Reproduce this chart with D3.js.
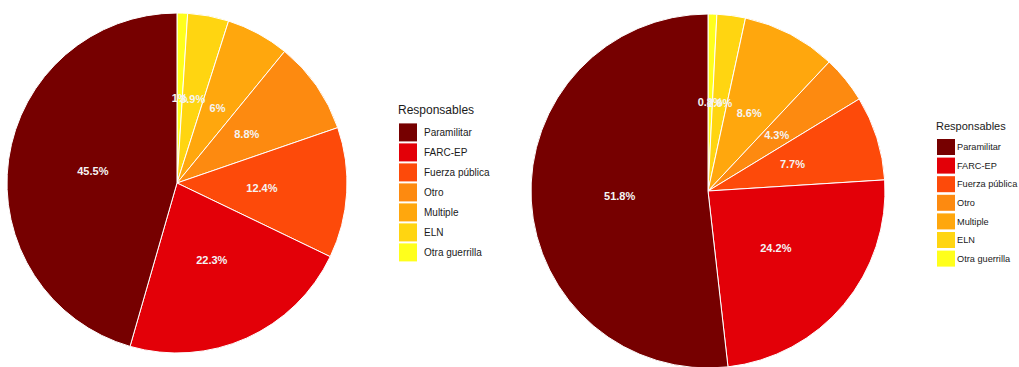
<!DOCTYPE html>
<html>
<head>
<meta charset="utf-8">
<script src="https://cdn.jsdelivr.net/npm/d3@7"></script>
<style>
  body { margin: 0; background: #fff; }
  text { font-family: "Liberation Sans", Arial, sans-serif; }
</style>
</head>
<body>
<div id="chart"></div>
<script>
const categorias = ["Paramilitar", "FARC-EP", "Fuerza pública", "Otro", "Multiple", "ELN", "Otra guerrilla"];
const colores = ["#760000", "#e30008", "#fd4a0a", "#fd8a10", "#ffa70d", "#ffd511", "#ffff1c"];
const valoresIzq = [45.5, 22.3, 12.4, 8.8, 6, 3.9, 1];
const valoresDer = [51.8, 24.2, 7.7, 4.3, 8.6, 2.6, 0.8];

const w = 1019;
const h = 367;

const color = d3.scaleOrdinal().domain(categorias).range(colores);

const svg = d3.select("#chart")
    .append("svg")
    .attr("width", w)
    .attr("height", h);

// slices go clockwise from 12 o'clock, last category first
const pie = d3.pie().sort(null).value(d => d.v);

function dibujarPie(valores, cx, cy, r) {
    const datos = categorias.map((c, i) => ({ c: c, v: valores[i] })).reverse();
    const arc = d3.arc().innerRadius(0).outerRadius(r);
    const g = svg.append("g").attr("transform", `translate(${cx},${cy})`);

    g.selectAll("path")
        .data(pie(datos))
        .enter()
        .append("path")
        .attr("d", arc)
        .attr("fill", d => color(d.data.c))
        .attr("stroke", "#fff")
        .attr("stroke-width", 1);

    g.selectAll("text")
        .data(pie(datos))
        .enter()
        .append("text")
        .attr("transform", d => `translate(${arc.centroid(d)})`)
        .attr("text-anchor", "middle")
        .attr("dy", "0.35em")
        .attr("fill", "#f4f4f4")
        .attr("font-size", "11px")
        .attr("font-weight", "bold")
        .text(d => `${d.data.v}%`);
}

function dibujarLeyenda(x, y, tam, key, gap, paso, tamTexto) {
    const g = svg.append("g").attr("transform", `translate(${x},${y})`);
    g.append("text")
        .attr("x", 0)
        .attr("y", 0)
        .attr("font-size", tam + "px")
        .attr("fill", "#1a1a1a")
        .text("Responsables");

    const yScale = d3.scaleBand()
        .domain(categorias)
        .range([tam * 0.7, tam * 0.7 + paso * categorias.length]);

    const fila = g.selectAll(".fila")
        .data(categorias)
        .enter()
        .append("g")
        .attr("transform", d => `translate(0,${yScale(d)})`);

    fila.append("rect")
        .attr("x", 1)
        .attr("y", (paso - key[1]) / 2)
        .attr("width", key[0])
        .attr("height", key[1])
        .attr("fill", d => color(d));

    fila.append("text")
        .attr("x", key[0] + gap)
        .attr("y", paso / 2)
        .attr("dy", "0.35em")
        .attr("font-size", tamTexto + "px")
        .attr("fill", "#1a1a1a")
        .text(d => d);
}

dibujarPie(valoresIzq, 177, 183, 170);
dibujarPie(valoresDer, 708, 191, 177);

dibujarLeyenda(398, 114, 12, [18, 18], 8, 20, 10);
dibujarLeyenda(936, 130, 11, [18, 16], 3, 18.6, 9.2);
</script>
</body>
</html>
